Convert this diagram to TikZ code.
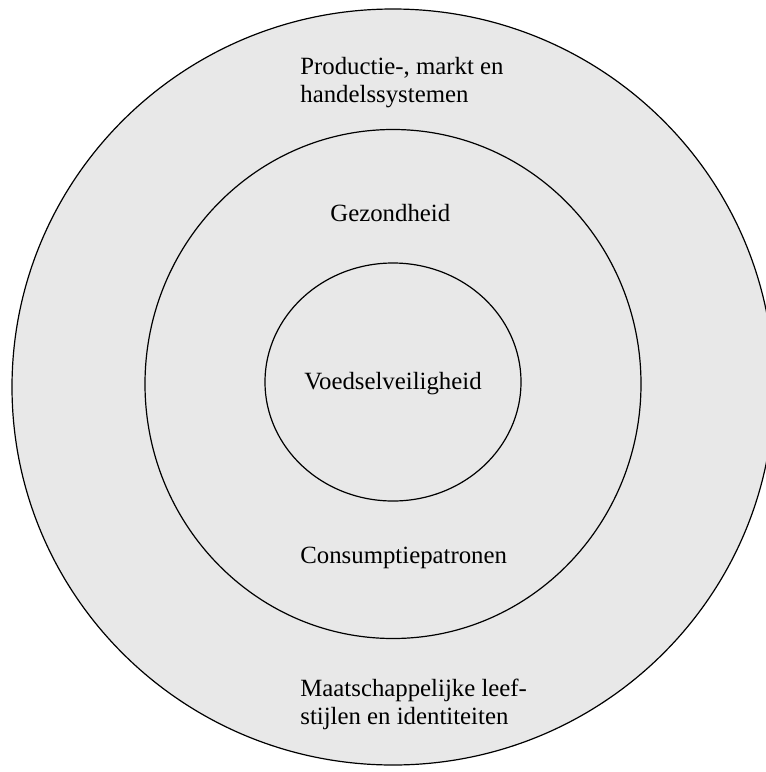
\documentclass[tikz,border=0pt]{standalone}
\usepackage{fontspec}
\setmainfont{Liberation Serif}
\usepackage{xcolor}
\usetikzlibrary{shapes.geometric}
\definecolor{ringgray}{RGB}{232,232,232}

\begin{document}
\begin{tikzpicture}[x=0.5pt, y=-0.5pt, every node/.style={font=\fontsize{12.4}{14}\selectfont},
  ring/.style={draw=black, fill=ringgray, line width=0.6pt},
  label/.style={anchor=base west, inner sep=0pt, align=left}]
  \useasboundingbox (0,0) rectangle (766,772);
  \begin{scope}
    \clip (0,0) rectangle (766,772);
    \node[ring, ellipse, minimum width=381pt, minimum height=378pt] (outer) at (393,387) {};
    \node[ring, ellipse, minimum width=248pt, minimum height=254.5pt] (middle) at (393,384) {};
    \node[ring, ellipse, minimum width=128pt, minimum height=119pt] (inner) at (393,382) {};
  \end{scope}
  % two-line labels sit on the baseline of their last line
  \node[label] (markt) at (300,102) {Productie-, markt en\\handelssystemen};
  \node[label] (gezond) at (330,221) {Gezondheid};
  \node[label] (voedsel) at (304,389) {Voedselveiligheid};
  \node[label] (consumptie) at (300,563) {Consumptiepatronen};
  \node[label] (leefstijl) at (300,724) {Maatschappelijke leef-\\stijlen en identiteiten};
\end{tikzpicture}
\end{document}
